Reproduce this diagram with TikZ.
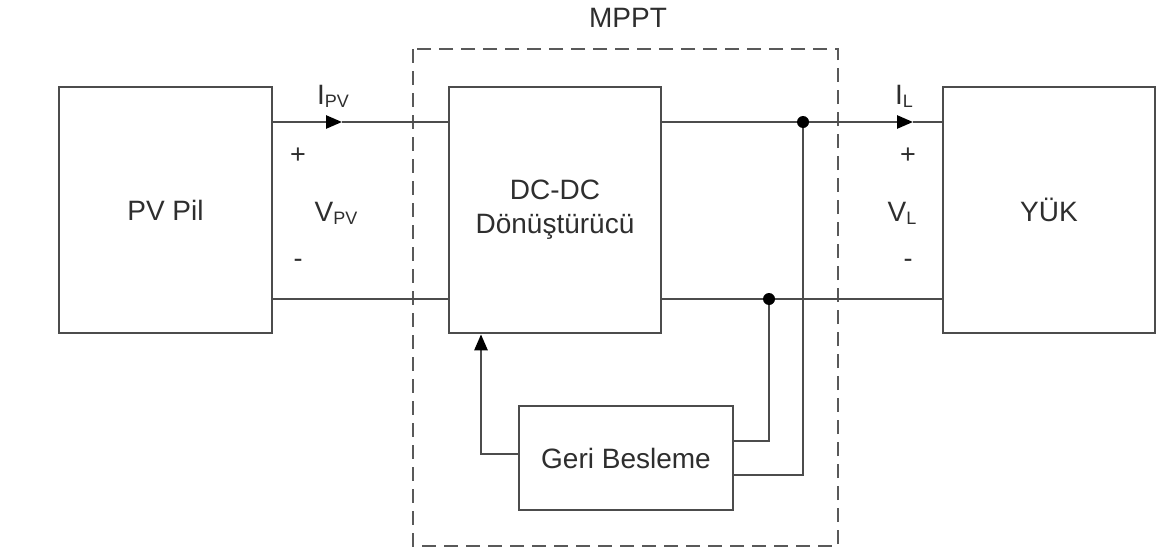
\documentclass[tikz,border=0pt]{standalone}
\usepackage{fontspec}
\setmainfont{Liberation Sans}
\usetikzlibrary{arrows.meta}
\newcommand\lowtxt[1]{\raisebox{-0.1em}{\fontsize{18}{18}\selectfont #1}}
\begin{document}
\begin{tikzpicture}[x=1pt,y=-1pt,
  wire/.style={line width=2.6pt, draw=black!70},
  blk/.style={draw=black!70, line width=2.6pt, fill=white, inner sep=0pt, align=center,
    font=\fontsize{28}{34}\selectfont, text=black!82},
  lbl/.style={inner sep=0pt, font=\fontsize{28}{34}\selectfont, text=black!82},
  sgn/.style={inner sep=0pt, font=\fontsize{27}{30}\selectfont, text=black!82},
  tip/.style={-{Triangle[length=16pt,width=13pt,color=black]}},
  dot/.style={circle, fill=black, inner sep=0pt, minimum size=12pt}]
\useasboundingbox (0,0) rectangle (1160,554);
% dashed MPPT box
\draw[black!65, line width=2.8pt, dash pattern=on 14pt off 8pt] (413,49) rectangle (838,546);
\node[lbl] (mppt) at (628,18) {MPPT};
% blocks
\node[blk, minimum width=213pt, minimum height=246pt] (pv) at (165.5,210) {PV Pil};
\node[blk, minimum width=212pt, minimum height=246pt] (dc) at (555,210) {DC-DC\\[0pt]Dönüştürücü};
\node[blk, minimum width=212pt, minimum height=246pt] (load) at (1049,210) {YÜK};
\node[blk, minimum width=214pt, minimum height=104pt] (fb) at (626,458) {Geri Besleme};
% helper coordinates
\coordinate (top) at (0,122);
\coordinate (bot) at (0,299);
\coordinate (ipv) at (342,122);
\coordinate (il) at (913,122);
\coordinate (j1) at (803,122);
\coordinate (j2) at (769,299);
\coordinate (f1) at (0,441);
\coordinate (f2) at (0,475);
\coordinate (fa) at (481,454);
% top wires
\draw[wire, tip] (pv.east |- top) -- (ipv);
\draw[wire] (ipv) -- (dc.west |- top);
\draw[wire, tip] (dc.east |- top) -- (il);
\draw[wire] (il) -- (load.west |- top);
% bottom wires
\draw[wire] (pv.east |- bot) -- (dc.west |- bot);
\draw[wire] (dc.east |- bot) -- (load.west |- bot);
% feedback connections
\draw[wire] (j1) -- (j1 |- f2) -- (fb.east |- f2);
\draw[wire] (j2) -- (j2 |- f1) -- (fb.east |- f1);
\draw[wire, tip] (fb.west |- fa) -- (fa) -- (fa |- dc.south);
\node[dot] (d1) at (j1) {};
\node[dot] (d2) at (j2) {};
% labels
\node[lbl] (lipv) at (333,96) {I\lowtxt{PV}};
\node[sgn] (p1) at (298,156) {+};
\node[lbl] (lvpv) at (336,213) {V\lowtxt{PV}};
\node[sgn] (m1) at (298,263) {-};
\node[lbl] (lil) at (904,96) {I\lowtxt{L}};
\node[sgn] (p2) at (908,156) {+};
\node[lbl] (lvl) at (902,213) {V\lowtxt{L}};
\node[sgn] (m2) at (908,263) {-};
\end{tikzpicture}
\end{document}
